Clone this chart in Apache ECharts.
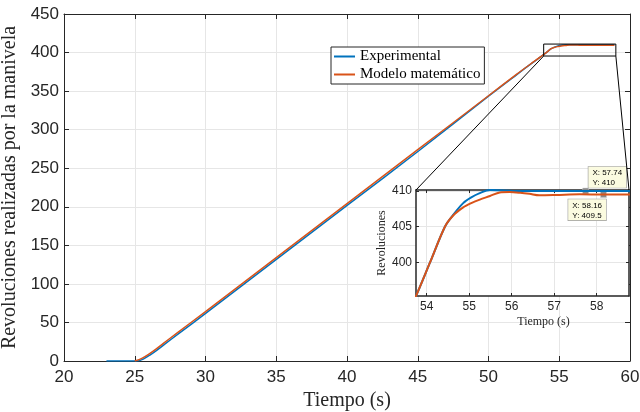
<!DOCTYPE html>
<html>
<head>
<meta charset="utf-8">
<script src="https://cdn.jsdelivr.net/npm/echarts@6/dist/echarts.min.js"></script>
<style>
html, body { margin: 0; padding: 0; background: #fff; }
#chart { width: 640px; height: 412px; }
</style>
</head>
<body>
<div id="chart"></div>
<script>
// Measured crank revolutions (experimental run)
const expTime = [23, 25.15, 25.6, 26.1, 26.6, 27.1, 28.1, 30.1, 35.1, 40.1, 45.1, 50, 52, 53, 53.75, 54.08, 54.43, 54.63, 54.86, 55.05, 55.25, 55.49, 55.72, 56.03, 56.5, 57.74, 58.9];
const expRev  = [0, 0, 2.5, 8, 14.5, 21.5, 35.5, 63, 133, 203, 273, 343.5, 371.5, 385.3, 395.3, 400, 405, 406.7, 408.3, 409.1, 409.7, 410.15, 410.1, 410, 410, 410, 410];

// Mathematical model response
const modTime = [25, 25.5, 26, 26.5, 27, 28, 30, 35, 40, 45, 50, 52, 53, 53.75, 54.08, 54.43, 54.63, 54.86, 55.05, 55.25, 55.49, 55.72, 55.95, 56.2, 56.42, 56.65, 57.05, 57.6, 58.16, 58.9];
const modRev  = [0, 3.5, 9, 15.5, 22.5, 36.5, 64, 134, 204, 274, 344, 372, 385.5, 395.3, 400, 405, 406.6, 407.7, 408.3, 408.8, 409.3, 409.8, 409.85, 409.75, 409.6, 409.4, 409.45, 409.55, 409.5, 409.5];

const seriesNames = ['Experimental', 'Modelo matemático'];

// Ticks of the detail axes
const insetXTicks = [54, 55, 56, 57, 58];
const insetYTicks = [400, 405, 410];

// Data cursors shown on the detail view
const tipX = [57.74, 58.16];
const tipY = [410, 409.5];

// Region of the main plot enlarged in the detail view
const zoomX = [53.9, 59];
const zoomY = [395.5, 411];
const insetX = [53.75, 58.76];
const insetY = [395.3, 410.14];

const BLUE = '#0072BD', RED = '#D95319';
const AX = '#262626', GRID = '#e6e6e6';
const SERIF = '"Liberation Serif", "Times New Roman", serif';
const SANS = '"Liberation Sans", Arial, sans-serif';

const zip = (a, b) => a.map((v, i) => [v, b[i]]);
const expData = zip(expTime, expRev);
const modData = zip(modTime, modRev);

function boxAxis(gridIndex, position, extra) {
  return Object.assign({
    type: 'value', gridIndex, position,
    axisLine: { show: true, onZero: false, lineStyle: { color: AX, width: 1 } },
    axisTick: { show: true, inside: true, length: 5, lineStyle: { color: AX } },
    axisLabel: { show: false },
    splitLine: { show: false }
  }, extra);
}

const tipLabel = (i, pos) => ({
  show: true,
  formatter: 'X: ' + tipX[i] + '\nY: ' + tipY[i],
  position: pos,
  fontFamily: SANS, fontSize: 8, lineHeight: 10, color: '#000',
  backgroundColor: '#fbfbe0', borderColor: '#9a9a9a', borderWidth: 0.6,
  padding: [1, 4, 0, 4]
});

const chart = echarts.init(document.getElementById('chart'), null, { renderer: 'canvas' });

const option = {
  backgroundColor: '#fff',
  animation: false,
  grid: [
    { left: 64, right: 10, top: 14, bottom: 51, show: false, containLabel: false, outerBoundsMode: 'none' },
    { left: 416, right: 11, top: 190, bottom: 116, show: true, backgroundColor: '#fff', borderWidth: 0, z: 3,
      containLabel: false, outerBoundsMode: 'none' }
  ],
  legend: {
    data: seriesNames,
    orient: 'vertical',
    left: 331, top: 47,
    itemWidth: 21, itemHeight: 14, itemGap: 3, itemTextGap: 2,
    padding: [2, 4, 2, 2],
    borderColor: AX, borderWidth: 1,
    backgroundColor: '#fff',
    itemStyle: { opacity: 0 },
    textStyle: { fontFamily: SERIF, fontSize: 15, color: '#000' },
    z: 10
  },
  xAxis: [
    {
      type: 'value', gridIndex: 0, min: 20, max: 60, interval: 5,
      name: 'Tiempo (s)', nameLocation: 'middle', nameGap: 27,
      nameTextStyle: { fontFamily: SERIF, fontSize: 20, color: AX },
      axisLine: { show: true, onZero: false, lineStyle: { color: AX } },
      axisTick: { inside: true, length: 5, lineStyle: { color: AX } },
      axisLabel: { fontFamily: SANS, fontSize: 17, color: AX, margin: 8 },
      splitLine: { show: true, lineStyle: { color: GRID, width: 1 } }
    },
    boxAxis(0, 'top', { min: 20, max: 60, interval: 5 }),
    {
      type: 'value', gridIndex: 1, min: insetX[0], max: insetX[1],
      name: 'Tiempo (s)', nameLocation: 'middle', nameGap: 20,
      nameTextStyle: { fontFamily: SERIF, fontSize: 12, color: AX, padding: [0, 0, 0, 42] },
      axisLine: { show: true, onZero: false, lineStyle: { color: AX, width: 1.5 } },
      axisTick: { inside: true, length: 3, customValues: insetXTicks, lineStyle: { color: AX } },
      axisLabel: { customValues: insetXTicks, fontFamily: SANS, fontSize: 12, color: AX, margin: 5 },
      splitLine: { show: true, lineStyle: { color: GRID } },
      z: 4
    },
    boxAxis(1, 'top', {
      min: insetX[0], max: insetX[1],
      axisLine: { show: true, onZero: false, lineStyle: { color: AX, width: 1.5 } },
      axisTick: { show: true, inside: true, length: 3, customValues: insetXTicks, lineStyle: { color: AX } },
      z: 4
    })
  ],
  yAxis: [
    {
      type: 'value', gridIndex: 0, min: 0, max: 450, interval: 50,
      name: 'Revoluciones realizadas por la manivela', nameLocation: 'middle', nameGap: 33,
      nameTextStyle: { fontFamily: SERIF, fontSize: 20, color: AX },
      axisLine: { show: true, onZero: false, lineStyle: { color: AX } },
      axisTick: { inside: true, length: 5, lineStyle: { color: AX } },
      axisLabel: { fontFamily: SANS, fontSize: 17, color: AX, margin: 5 },
      splitLine: { show: true, lineStyle: { color: GRID, width: 1 } }
    },
    boxAxis(0, 'right', { min: 0, max: 450, interval: 50 }),
    {
      type: 'value', gridIndex: 1, min: insetY[0], max: insetY[1],
      name: 'Revoluciones', nameLocation: 'middle', nameGap: 26,
      nameTextStyle: { fontFamily: SERIF, fontSize: 12, color: AX },
      axisLine: { show: true, onZero: false, lineStyle: { color: AX, width: 1.5 } },
      axisTick: { inside: true, length: 3, customValues: insetYTicks, lineStyle: { color: AX } },
      axisLabel: { customValues: insetYTicks, fontFamily: SANS, fontSize: 12, color: AX, margin: 4 },
      splitLine: { show: true, lineStyle: { color: GRID } },
      z: 4
    },
    boxAxis(1, 'right', {
      min: insetY[0], max: insetY[1],
      axisLine: { show: true, onZero: false, lineStyle: { color: AX, width: 1.5 } },
      axisTick: { show: true, inside: true, length: 3, customValues: insetYTicks, lineStyle: { color: AX } },
      z: 4
    })
  ],
  series: [
    {
      name: seriesNames[0], type: 'line', xAxisIndex: 0, yAxisIndex: 0,
      data: expData, showSymbol: false, symbol: 'none', smooth: 0.3,
      lineStyle: { color: BLUE, width: 1.5 }, itemStyle: { color: BLUE }, z: 2
    },
    {
      name: seriesNames[1], type: 'line', xAxisIndex: 0, yAxisIndex: 0,
      data: modData, showSymbol: false, symbol: 'none', smooth: 0.3,
      lineStyle: { color: RED, width: 1.5 }, itemStyle: { color: RED }, z: 2
    },
    {
      name: seriesNames[0], type: 'line', xAxisIndex: 2, yAxisIndex: 2,
      data: expData, showSymbol: false, symbol: 'none', smooth: 0.3, clip: true,
      lineStyle: { color: BLUE, width: 2 }, itemStyle: { color: BLUE }, z: 5,
      markPoint: {
        symbol: 'rect', symbolSize: 6,
        itemStyle: { color: '#8a8a8a', borderColor: '#d0d0d0', borderWidth: 0.5 },
        data: [{ coord: [tipX[0], tipY[0]], label: tipLabel(0, [6, -21]) }]
      }
    },
    {
      name: seriesNames[1], type: 'line', xAxisIndex: 2, yAxisIndex: 2,
      data: modData, showSymbol: false, symbol: 'none', smooth: 0.3, clip: true,
      lineStyle: { color: RED, width: 2 }, itemStyle: { color: RED }, z: 5,
      markPoint: {
        symbol: 'rect', symbolSize: 6,
        itemStyle: { color: '#8a8a8a', borderColor: '#d0d0d0', borderWidth: 0.5 },
        data: [{ coord: [tipX[1], tipY[1]], label: tipLabel(1, [-32, 8]) }]
      }
    }
  ]
};

chart.setOption(option);

// Zoom window on the main plot and its connectors to the detail view
const px = (g, v) => chart.convertToPixel({ gridIndex: g }, v);
const a = px(0, [zoomX[0], zoomY[1]]);
const b = px(0, [zoomX[1], zoomY[0]]);
const insTL = px(1, [insetX[0], insetY[1]]);
const insTR = px(1, [insetX[1], insetY[1]]);
const lineStyle = { stroke: '#000', lineWidth: 1, fill: null };
chart.setOption({
  graphic: [
    { type: 'rect', z: 20, silent: true,
      shape: { x: a[0], y: a[1], width: b[0] - a[0], height: b[1] - a[1] }, style: lineStyle },
    { type: 'line', z: 20, silent: true,
      shape: { x1: a[0], y1: b[1], x2: insTL[0], y2: insTL[1] }, style: lineStyle },
    { type: 'line', z: 20, silent: true,
      shape: { x1: b[0], y1: b[1], x2: insTR[0], y2: insTR[1] }, style: lineStyle }
  ]
});
</script>
</body>
</html>
